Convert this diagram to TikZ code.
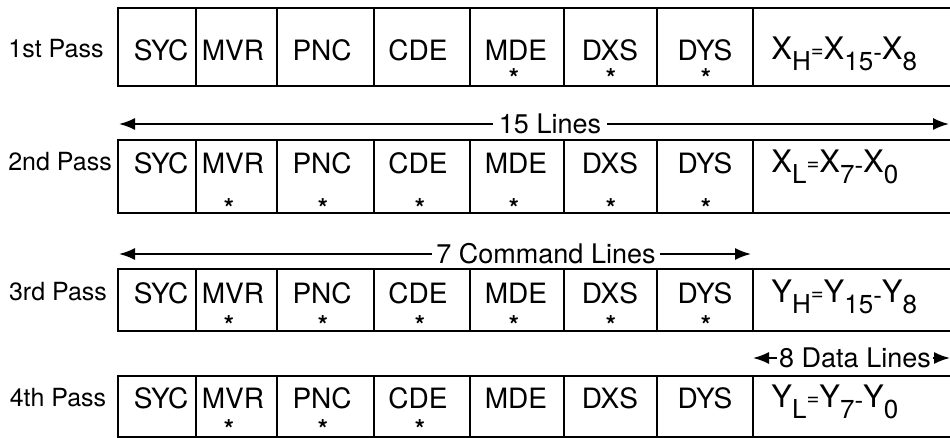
\documentclass[tikz,border=0pt]{standalone}
\usepackage{fontspec}
\setmainfont{TeX Gyre Heros}
\usetikzlibrary{arrows.meta}

\newcommand{\lowsub}[1]{\raisebox{-5.5pt}{\fontsize{13}{13}\selectfont #1}}
\newcommand{\smalleq}{\raisebox{1pt}{\fontsize{11}{11}\selectfont =}}
\newcommand{\lowdash}{\raisebox{-1pt}{\fontsize{13}{13}\selectfont -}}

\begin{document}
\begin{tikzpicture}[x=0.5pt, y=-0.5pt,
    frame/.style={draw=black, line width=1.1pt},
    field/.style={inner sep=0pt, font=\fontsize{14}{16}\selectfont},
    asterisk/.style={inner sep=0pt, anchor=base, font=\fontsize{13}{13}\selectfont\bfseries},
    passlabel/.style={inner sep=0pt, font=\fontsize{12.5}{14}\selectfont},
    datafield/.style={inner sep=0pt, anchor=base west, font=\fontsize{15.5}{17}\selectfont},
    spantext/.style={inner sep=3pt, font=\fontsize{13.5}{16}\selectfont},
    spanarrow/.style={line width=0.9pt, -{Latex[length=8pt, width=6pt]}}]

    \useasboundingbox (0,0) rectangle (950,438);

    % Frames of the four passes
    \draw[frame] (950,8) -- (118,8) -- (118,86) -- (950,86);
    \draw[frame] (196,8) -- (196,86) (277,8) -- (277,86) (374,8) -- (374,86) (470,8) -- (470,86)
        (564,8) -- (564,86) (657,8) -- (657,86) (753,8) -- (753,86);
    \draw[frame] (950,140) -- (118,140) -- (118,213) -- (950,213);
    \draw[frame] (196,140) -- (196,213) (277,140) -- (277,213) (374,140) -- (374,213) (470,140) -- (470,213)
        (564,140) -- (564,213) (657,140) -- (657,213) (753,140) -- (753,213);
    \draw[frame] (950,269) -- (118,269) -- (118,331) -- (950,331);
    \draw[frame] (196,269) -- (196,331) (277,269) -- (277,331) (374,269) -- (374,331) (470,269) -- (470,331)
        (564,269) -- (564,331) (657,269) -- (657,331) (753,269) -- (753,331);
    \draw[frame] (950,376) -- (118,376) -- (118,437) -- (950,437);
    \draw[frame] (196,376) -- (196,437) (277,376) -- (277,437) (374,376) -- (374,437) (470,376) -- (470,437)
        (564,376) -- (564,437) (657,376) -- (657,437) (753,376) -- (753,437);

    % 1st pass
    \node[passlabel] (p1) at (56,49) {1st Pass};
    \node[field] (r1syc) at (161,50) {SYC};
    \node[field] (r1mvr) at (233,50) {MVR};
    \node[field] (r1pnc) at (322,50) {PNC};
    \node[field] (r1cde) at (418,50) {CDE};
    \node[field] (r1mde) at (516,50) {MDE};
    \node[field] (r1dxs) at (610,50) {DXS};
    \node[field] (r1dys) at (705,50) {DYS};
    \node[datafield] (r1dat) at (771,60) {X\lowsub{H}\smalleq X\lowsub{15}\lowdash X\lowsub{8}};
    \node[asterisk] (s1mde) at (514,88) {*};
    \node[asterisk] (s1dxs) at (611,88) {*};
    \node[asterisk] (s1dys) at (706,88) {*};

    % 2nd pass
    \node[passlabel] (p2) at (60,162) {2nd Pass};
    \node[field] (r2syc) at (161,163) {SYC};
    \node[field] (r2mvr) at (233,163) {MVR};
    \node[field] (r2pnc) at (322,163) {PNC};
    \node[field] (r2cde) at (418,163) {CDE};
    \node[field] (r2mde) at (516,163) {MDE};
    \node[field] (r2dxs) at (610,163) {DXS};
    \node[field] (r2dys) at (705,163) {DYS};
    \node[datafield] (r2dat) at (771,173) {X\lowsub{L}\smalleq X\lowsub{7}\lowdash X\lowsub{0}};
    \node[asterisk] (s2mvr) at (229,218) {*};
    \node[asterisk] (s2pnc) at (323,218) {*};
    \node[asterisk] (s2cde) at (420,218) {*};
    \node[asterisk] (s2mde) at (514,218) {*};
    \node[asterisk] (s2dxs) at (611,218) {*};
    \node[asterisk] (s2dys) at (706,218) {*};

    % 3rd pass
    \node[passlabel] (p3) at (58,292) {3rd Pass};
    \node[field] (r3syc) at (161,293) {SYC};
    \node[field] (r3mvr) at (233,293) {MVR};
    \node[field] (r3pnc) at (322,293) {PNC};
    \node[field] (r3cde) at (418,293) {CDE};
    \node[field] (r3mde) at (516,293) {MDE};
    \node[field] (r3dxs) at (610,293) {DXS};
    \node[field] (r3dys) at (705,293) {DYS};
    \node[datafield] (r3dat) at (771,303) {Y\lowsub{H}\smalleq Y\lowsub{15}\lowdash Y\lowsub{8}};
    \node[asterisk] (s3mvr) at (229,335) {*};
    \node[asterisk] (s3pnc) at (323,335) {*};
    \node[asterisk] (s3cde) at (420,335) {*};
    \node[asterisk] (s3mde) at (514,335) {*};
    \node[asterisk] (s3dxs) at (611,335) {*};
    \node[asterisk] (s3dys) at (706,335) {*};

    % 4th pass
    \node[passlabel] (p4) at (58,398) {4th Pass};
    \node[field] (r4syc) at (161,398) {SYC};
    \node[field] (r4mvr) at (233,398) {MVR};
    \node[field] (r4pnc) at (322,398) {PNC};
    \node[field] (r4cde) at (418,398) {CDE};
    \node[field] (r4mde) at (516,398) {MDE};
    \node[field] (r4dxs) at (610,398) {DXS};
    \node[field] (r4dys) at (705,398) {DYS};
    \node[datafield] (r4dat) at (771,408) {Y\lowsub{L}\smalleq Y\lowsub{7}\lowdash Y\lowsub{0}};
    \node[asterisk] (s4mvr) at (229,439) {*};
    \node[asterisk] (s4pnc) at (323,439) {*};
    \node[asterisk] (s4cde) at (420,439) {*};

    % Spans between the passes
    \node[spantext] (lines) at (550,124) {15 Lines};
    \coordinate (linesL) at (119,124);
    \coordinate (linesR) at (949,124);
    \draw[spanarrow] (lines) -- (linesL);
    \draw[spanarrow] (lines) -- (linesR);

    \node[spantext, inner sep=2pt] (cmd) at (546,254) {7 Command Lines};
    \coordinate (cmdL) at (119,254);
    \coordinate (cmdR) at (751,254);
    \draw[spanarrow] (cmd) -- (cmdL);
    \draw[spanarrow] (cmd) -- (cmdR);

    \node[spantext, inner sep=1pt] (dat) at (855,358) {8 Data Lines};
    \coordinate (datL) at (753,358);
    \coordinate (datR) at (950,358);
    \draw[spanarrow] (dat) -- (datL);
    \draw[spanarrow] (dat) -- (datR);

\end{tikzpicture}
\end{document}
